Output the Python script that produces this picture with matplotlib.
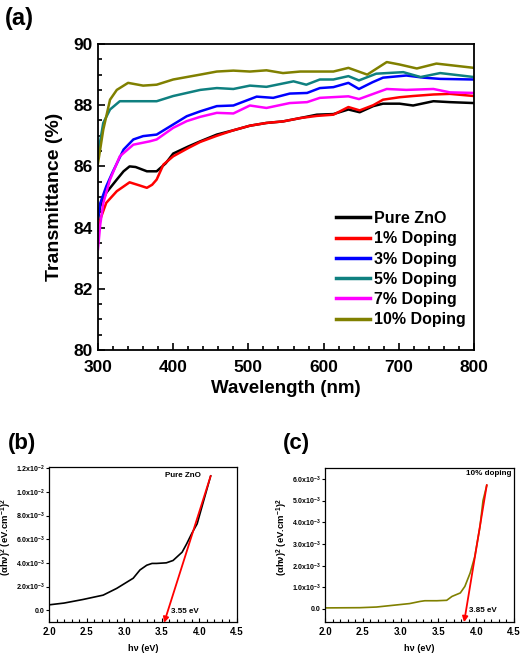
"""
UV-Vis transmittance of ZnO films plus Tauc plots for pure and 10% doped samples.
"""

import matplotlib
matplotlib.use("Agg")
import matplotlib.pyplot as plt
from matplotlib.ticker import MultipleLocator

plt.rcParams['font.family'] = ['Liberation Sans', 'DejaVu Sans']
plt.rcParams['font.weight'] = 'bold'
plt.rcParams['axes.labelweight'] = 'bold'
plt.rcParams['mathtext.fontset'] = 'custom'
plt.rcParams['mathtext.rm'] = 'Liberation Sans:bold'
plt.rcParams['mathtext.bf'] = 'Liberation Sans:bold'
plt.rcParams['mathtext.it'] = 'Liberation Sans:bold'
plt.rcParams['mathtext.default'] = 'bf'

# ---- panel (a): transmittance spectra ----
labels = ['Pure ZnO', '1% Doping', '3% Doping', '5% Doping', '7% Doping', '10% Doping']
colors = ['#000000', '#ff0000', '#0000ff', '#0f8080', '#ff00ff', '#808000']

wl_pure = [300, 303, 311, 325, 334, 342, 350, 365, 378, 390, 400, 420, 436, 458, 480, 502, 524, 546,
           569, 591, 613, 633, 648, 666, 679, 701, 719, 746, 768, 800]
t_pure = [84.3, 84.7, 85.14, 85.57, 85.84, 86.0, 85.98, 85.84, 85.84, 86.1, 86.42, 86.65, 86.82,
          87.04, 87.18, 87.33, 87.42, 87.47, 87.58, 87.69, 87.71, 87.86, 87.77, 87.97, 88.05,
          88.05, 87.99, 88.13, 88.1, 88.07]

wl_1 = [300, 303, 311, 325, 342, 355, 365, 372, 378, 387, 400, 420, 436, 458, 480, 502, 524, 546,
        569, 591, 613, 633, 648, 666, 679, 701, 719, 746, 768, 800]
t_1 = [83.9, 84.27, 84.81, 85.19, 85.48, 85.38, 85.3, 85.4, 85.57, 86.06, 86.33, 86.6, 86.8, 87.0,
       87.18, 87.33, 87.42, 87.47, 87.58, 87.65, 87.69, 87.94, 87.83, 88.0, 88.18, 88.26, 88.3,
       88.35, 88.37, 88.3]

wl_3 = [300, 303, 311, 320, 334, 347, 360, 378, 400, 418, 436, 458, 480, 511, 533, 555, 578, 595,
        613, 633, 647, 665, 679, 710, 733, 755, 800]
t_3 = [84.3, 84.8, 85.35, 85.84, 86.55, 86.88, 86.99, 87.04, 87.37, 87.64, 87.8, 87.97, 87.99,
       88.28, 88.24, 88.38, 88.4, 88.56, 88.59, 88.73, 88.53, 88.75, 88.9, 88.97, 88.9, 88.86, 88.84]

wl_5 = [300, 307, 316, 329, 347, 378, 400, 436, 458, 480, 502, 524, 560, 577, 595, 613, 633, 647,
        670, 706, 729, 755, 800]
t_5 = [86.4, 87.42, 87.86, 88.13, 88.13, 88.13, 88.3, 88.5, 88.56, 88.53, 88.64, 88.6, 88.78,
       88.67, 88.84, 88.84, 88.95, 88.81, 89.03, 89.08, 88.92, 89.05, 88.92]

wl_7 = [300, 303, 307, 316, 329, 347, 369, 378, 400, 418, 436, 458, 480, 502, 524, 555, 578, 595,
        633, 647, 684, 710, 746, 768, 800]
t_7 = [83.3, 84.1, 84.8, 85.57, 86.33, 86.71, 86.82, 86.88, 87.26, 87.48, 87.62, 87.75, 87.73,
       87.99, 87.91, 88.07, 88.1, 88.24, 88.29, 88.2, 88.53, 88.5, 88.53, 88.42, 88.4]

wl_10 = [300, 307, 316, 325, 340, 360, 378, 400, 436, 458, 480, 502, 524, 546, 569, 613, 633, 658,
         684, 701, 724, 750, 800]
t_10 = [86.1, 87.2, 88.18, 88.5, 88.73, 88.64, 88.67, 88.84, 89.0, 89.1, 89.13, 89.1, 89.14,
        89.05, 89.1, 89.1, 89.22, 89.0, 89.41, 89.33, 89.2, 89.36, 89.22]

spectra = [(wl_pure, t_pure), (wl_1, t_1), (wl_3, t_3), (wl_5, t_5), (wl_7, t_7), (wl_10, t_10)]

# ---- panel (b): Tauc plot, pure ZnO ----
hv_b = [2.0, 2.2, 2.45, 2.72, 2.9, 3.12, 3.21, 3.3, 3.37, 3.43, 3.56, 3.65, 3.77, 3.83, 3.9, 3.97,
        4.05, 4.15]
ahv_b = [0.00045, 0.0006, 0.0009, 0.00127, 0.00184, 0.0027, 0.0034, 0.0038, 0.00395, 0.00395,
         0.004, 0.0042, 0.0049, 0.0056, 0.0065, 0.0073, 0.0091, 0.01135]
fit_b = ([4.15, 3.53], [0.01135, -0.00107])
gap_b = '3.55 eV'
yt_b = [0.0, 0.002, 0.004, 0.006, 0.008, 0.010, 0.012]
yl_b = ['0.0', r'2.0x10$^{-3}$', r'4.0x10$^{-3}$', r'6.0x10$^{-3}$', r'8.0x10$^{-3}$',
        r'1.0x10$^{-2}$', r'1.2x10$^{-2}$']

# ---- panel (c): Tauc plot, 10% doping ----
hv_c = [2.0, 2.46, 2.68, 2.9, 3.12, 3.26, 3.32, 3.48, 3.61, 3.68, 3.79, 3.85, 3.92, 3.98, 4.05,
        4.09, 4.14]
ahv_c = [0.00005, 0.00006, 0.00009, 0.00017, 0.00025, 0.00035, 0.00038, 0.00038, 0.0004,
         0.00058, 0.00074, 0.00104, 0.00166, 0.0024, 0.0038, 0.005, 0.0057]
fit_c = ([4.14, 3.84], [0.00572, -0.00061])
gap_c = '3.85 eV'
yt_c = [0.0, 0.001, 0.002, 0.003, 0.004, 0.005, 0.006]
yl_c = ['0.0', r'1.0x10$^{-3}$', r'2.0x10$^{-3}$', r'3.0x10$^{-3}$', r'4.0x10$^{-3}$',
        r'5.0x10$^{-3}$', r'6.0x10$^{-3}$']

W, H = 524, 654
fig = plt.figure(figsize=(W / 100, H / 100), dpi=100)


def frac(left, top, right, bottom):
    return [left / W, 1 - bottom / H, (right - left) / W, (bottom - top) / H]


# 主图
ax = fig.add_axes(frac(98, 44, 474, 350))
for (x, y), c, lab in zip(spectra, colors, labels):
    ax.plot(x, y, color=c, lw=1.8, label=lab)
ax.set_xlim(300, 800)
ax.set_ylim(80, 90)
ax.xaxis.set_major_locator(MultipleLocator(100))
ax.xaxis.set_minor_locator(MultipleLocator(20))
ax.yaxis.set_major_locator(MultipleLocator(2))
ax.yaxis.set_minor_locator(MultipleLocator(0.5))
ax.tick_params(which='both', direction='in', width=1.2, labelsize=12.5, top=False, right=False)
ax.tick_params(which='major', length=5)
ax.tick_params(which='minor', length=3)
ax.tick_params(axis='x', pad=7)
ax.tick_params(axis='y', pad=4)
for s in ax.spines.values():
    s.set_linewidth(1.3)
ax.set_xlabel('Wavelength (nm)', fontsize=13.5, labelpad=4)
ax.set_ylabel('Transmittance (%)', fontsize=14, labelpad=7)
leg = ax.legend(loc='upper left', bbox_to_anchor=(336 / W, 1 - 211 / H),
                bbox_transform=fig.transFigure, frameon=False, fontsize=11.5,
                handlelength=2.1, handletextpad=0.3, labelspacing=0.33,
                borderpad=0, borderaxespad=0)
for line in leg.get_lines():
    line.set_linewidth(2.5)
fig.text(5 / W, 1 - 19 / H, '(a)', fontsize=17, fontweight='bold', va='center', ha='left')


def tauc(ax, hv, ahv, fit, gap, name, yt, yl, ylim, col, text_xy, name_xy, ylab_x):
    ax.plot(hv, ahv, color=col, lw=1.2)
    ax.annotate('', xy=(fit[0][1], fit[1][1]), xytext=(fit[0][0], fit[1][0]),
                annotation_clip=False,
                arrowprops=dict(arrowstyle='-|>', color='red', lw=1.3, mutation_scale=8,
                                shrinkA=0, shrinkB=0))
    ax.text(text_xy[0], text_xy[1], gap, fontsize=5.8, ha='left', va='center')
    ax.text(name_xy[0], name_xy[1], name, fontsize=5.8, ha='left', va='center')
    ax.set_xlim(2.0, 4.5)
    ax.set_ylim(*ylim)
    ax.xaxis.set_major_locator(MultipleLocator(0.5))
    ax.xaxis.set_minor_locator(MultipleLocator(0.1))
    ax.set_yticks(yt)
    ax.set_yticklabels(yl)
    ax.tick_params(axis='x', which='both', direction='in', labelsize=7, width=0.8)
    ax.tick_params(axis='x', which='major', length=3)
    ax.tick_params(axis='x', which='minor', length=2)
    ax.tick_params(axis='y', direction='out', length=2, width=0.8, labelsize=5.0, pad=1)
    for s in ax.spines.values():
        s.set_linewidth(0.9)
    ax.set_xlabel('hν (eV)', fontsize=6.5, labelpad=5)
    ax.set_ylabel('(αhν)$^{2}$ (eV.cm$^{-1}$)$^{2}$', fontsize=6.8)
    ax.yaxis.set_label_coords(ylab_x, 0.55)


axb = fig.add_axes(frac(49, 467, 237, 622))
tauc(axb, hv_b, ahv_b, fit_b, gap_b, 'Pure ZnO', yt_b, yl_b, (-0.001, 0.0121), 'black',
     (3.62, -0.0001), (3.54, 0.0114), -0.186)
fig.text(8 / W, 1 - 443 / H, '(b)', fontsize=16, fontweight='bold', va='center', ha='left')

axc = fig.add_axes(frac(325, 468, 514, 622))
tauc(axc, hv_c, ahv_c, fit_c, gap_c, '10% doping', yt_c, yl_c, (-0.0006, 0.0065), '#808000',
     (3.9, -0.00007), (3.86, 0.00625), -0.186)
fig.text(283 / W, 1 - 443 / H, '(c)', fontsize=16, fontweight='bold', va='center', ha='left')

fig.savefig('out.png', dpi=100)
